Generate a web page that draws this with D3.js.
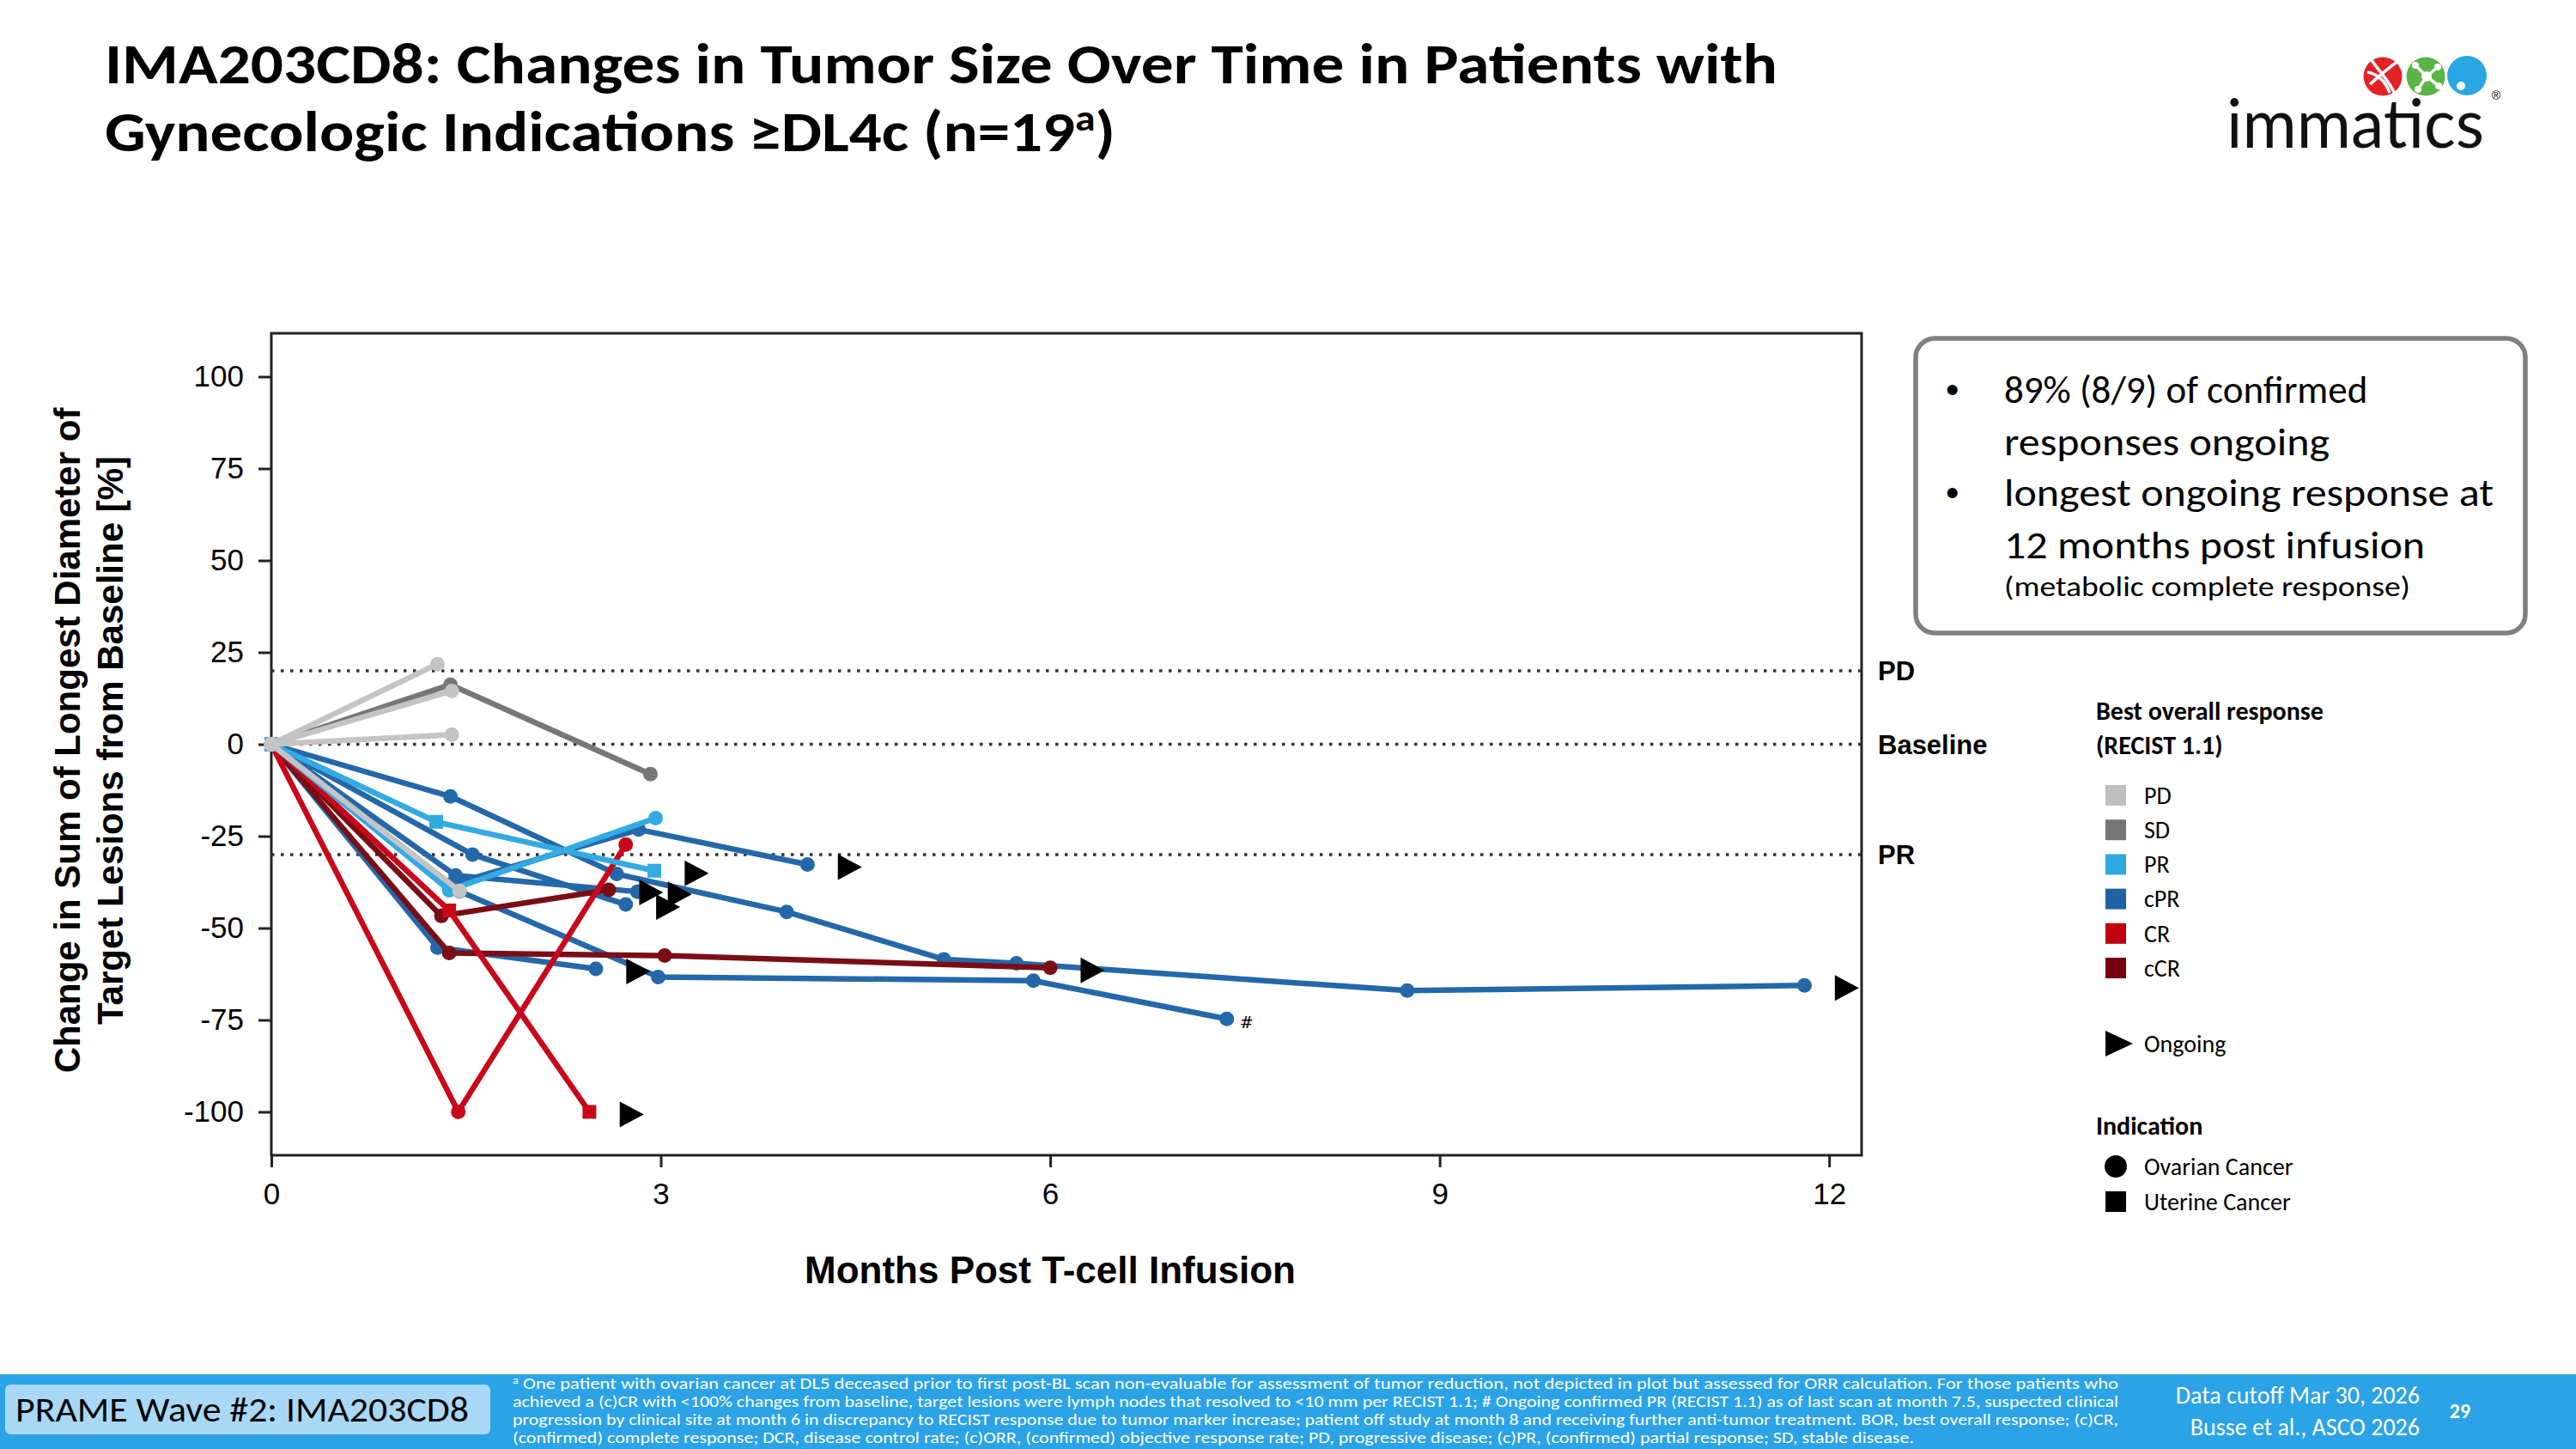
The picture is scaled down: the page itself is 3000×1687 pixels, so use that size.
<!DOCTYPE html>
<html><head><meta charset="utf-8">
<script src="https://cdn.jsdelivr.net/npm/d3@7"></script>
<style>html,body{margin:0;padding:0;background:#fff}svg{display:block}</style>
</head><body>
<svg id="c" width="3000" height="1687"></svg>
<script>
// ---------------- DATA ----------------
const seriesBOR = ["cPR","cPR","cPR","cPR","cPR","cPR","cCR","cCR","CR","CR","PR","PR","SD","PD","PD","PD","PD"];
const seriesIndication = ["Ovarian","Ovarian","Ovarian","Ovarian","Ovarian","Ovarian","Ovarian","Ovarian","Ovarian","Uterine","Uterine","Ovarian","Ovarian","Ovarian","Ovarian","Ovarian","Ovarian"];
const seriesOngoing = [true,false,true,true,true,true,true,true,false,true,true,false,false,false,false,false,false];
const seriesNote = ["","#","","","","","","","","","","","","","","",""];
const seriesMonths = [
  [0,1.38,2.66,3.97,5.18,5.74,8.75,11.81],
  [0,1.45,2.98,5.87,7.36],
  [0,1.28,2.50],
  [0,1.55,2.73],
  [0,1.42,2.82],
  [0,1.38,2.83,4.13],
  [0,1.31,2.60],
  [0,1.37,3.03,6.00],
  [0,1.44,2.73],
  [0,1.37,2.45],
  [0,1.27,2.95],
  [0,1.37,2.96],
  [0,1.38,2.92],
  [0,1.28],
  [0,1.39],
  [0,1.39],
  [0,1.45]
];
const seriesValues = [
  [0,-14.2,-35.3,-45.6,-58.5,-59.6,-67.0,-65.6],
  [0,-40.0,-63.3,-64.3,-74.7],
  [0,-55.3,-61.1],
  [0,-30.0,-43.6],
  [0,-35.7,-40.1],
  [0,-38.2,-23.2,-32.7],
  [0,-46.7,-39.6],
  [0,-56.8,-57.5,-60.8],
  [0,-100,-27.3],
  [0,-45.2,-100],
  [0,-21.1,-34.4],
  [0,-39.7,-20.1],
  [0,16.2,-8.1],
  [0,21.8],
  [0,14.5],
  [0,2.6],
  [0,-39.9]
];
const yTickValues = [100,75,50,25,0,-25,-50,-75,-100];
const xTickValues = [0,3,6,9,12];
const refValues = [20,0,-30];
const refLabels = ["PD","Baseline","PR"];
const legendCategories = ["PD","SD","PR","cPR","CR","cCR"];
const legendColors = ["#BFBFBF","#767676","#2EA9E0","#1F63A5","#C0000F","#760012"];
const lineColors = {PD:"#C4C4C4",SD:"#777777",PR:"#33AAE2",cPR:"#2468A9",CR:"#C8081A",cCR:"#7A0E16"};
const drawOrder = ["cPR","cCR","CR","PR","SD","PD"];
const indicationLabels = ["Ovarian Cancer","Uterine Cancer"];
const boxBullets = ["89% (8/9) of confirmed|responses ongoing","longest ongoing response at|12 months post infusion"];
const footnoteLines = [
 "One patient with ovarian cancer at DL5 deceased prior to first post-BL scan non-evaluable for assessment of tumor reduction, not depicted in plot but assessed for ORR calculation. For those patients who",
 "achieved a (c)CR with <100% changes from baseline, target lesions were lymph nodes that resolved to <10 mm per RECIST 1.1; # Ongoing confirmed PR (RECIST 1.1) as of last scan at month 7.5, suspected clinical",
 "progression by clinical site at month 6 in discrepancy to RECIST response due to tumor marker increase; patient off study at month 8 and receiving further anti-tumor treatment. BOR, best overall response; (c)CR,",
 "(confirmed) complete response; DCR, disease control rate; (c)ORR, (confirmed) objective response rate; PD, progressive disease; (c)PR, (confirmed) partial response; SD, stable disease."
];

// ---------------- LAYOUT ----------------
const svg = d3.select("#c");
const CAL = "Carlito, Lato, 'Open Sans', sans-serif";
const ARI = "'Liberation Sans', Arial, sans-serif";
const L = 316, R = 2168, T = 388, B = 1345;
const x = d3.scaleLinear().domain([0, 12.25]).range([L, R]);
const y = d3.scaleLinear().domain([-111.8, 111.8]).range([B, T]);
const ongoingOffset = 0.32;

function fit(sel, w){ sel.each(function(){ const l=this.getComputedTextLength(); if(Math.abs(l-w)>2){ d3.select(this).attr("textLength",w).attr("lengthAdjust","spacingAndGlyphs"); } }); }

// Title
const t1 = svg.append("text").attr("x",122).attr("y",97).attr("font-family",CAL).attr("font-weight",700).attr("font-size",66).attr("fill","#000")
  .text("IMA203CD8: Changes in Tumor Size Over Time in Patients with");
fit(t1,1948);
const t2 = svg.append("text").attr("x",122).attr("y",176).attr("font-family",CAL).attr("font-weight",700).attr("font-size",66).attr("fill","#000");
t2.append("tspan").text("Gynecologic Indications \u2265DL4c (n=19");
t2.append("tspan").attr("font-size",42).attr("dy",-24).text("a");
t2.append("tspan").attr("dy",24).text(")");
fit(t2,1177);

// Logo
const logo = svg.append("g");
logo.append("circle").attr("cx",2775).attr("cy",89).attr("r",22.5).attr("fill","#E32228");
logo.append("path").attr("d","M2762,70 C2772,85 2784,95 2790,112 M2760,98 C2770,90 2782,78 2792,72 M2757,84 C2768,86 2777,92 2783,108").attr("stroke","#fff").attr("stroke-width",3.5).attr("fill","none");
logo.append("circle").attr("cx",2825).attr("cy",89).attr("r",22.5).attr("fill","#5BB446");
logo.append("g").attr("stroke","#fff").attr("stroke-width",3.5).selectAll("line").data([[2813,76],[2839,78],[2816,104],[2840,100]]).join("line")
  .attr("x1",2826).attr("y1",89).attr("x2",d=>d[0]).attr("y2",d=>d[1]);
logo.append("circle").attr("cx",2826).attr("cy",89).attr("r",6).attr("fill","#fff");
logo.append("g").selectAll("circle").data([[2813,76],[2839,78],[2816,104],[2840,100]]).join("circle").attr("cx",d=>d[0]).attr("cy",d=>d[1]).attr("r",4).attr("fill","#fff");
logo.append("circle").attr("cx",2873).attr("cy",88).attr("r",23).attr("fill","#29A6E3");
logo.append("circle").attr("cx",2866).attr("cy",100).attr("r",5).attr("fill","#fff");
const lt = svg.append("text").attr("x",2593).attr("y",172).attr("font-family","Lato, 'Open Sans', sans-serif").attr("font-weight",400).attr("font-size",80).attr("fill","#111").text("immatics");
fit(lt,300);
svg.append("text").attr("x",2907).attr("y",116).attr("font-family",ARI).attr("font-size",14).attr("text-anchor","middle").text("\u00AE");

// Plot frame
svg.append("rect").attr("x",L).attr("y",T).attr("width",R-L).attr("height",B-T).attr("fill","none").attr("stroke","#222").attr("stroke-width",3);

// Reference lines
svg.append("g").selectAll("line").data(refValues).join("line")
  .attr("x1",L).attr("x2",R).attr("y1",d=>y(d)).attr("y2",d=>y(d))
  .attr("stroke","#333").attr("stroke-width",3.5).attr("stroke-dasharray","3.5,7.5");
svg.append("g").selectAll("text").data(refValues).join("text")
  .attr("x",2187).attr("y",d=>y(d)).attr("dy","0.36em").attr("font-family",ARI).attr("font-weight",700).attr("font-size",31)
  .text((d,i)=>refLabels[i]);

// Axes
const ya = svg.append("g").attr("transform",`translate(${L},0)`).call(d3.axisLeft(y).tickValues(yTickValues).tickSize(15).tickPadding(17).tickFormat(d=>String(d)));
const xa = svg.append("g").attr("transform",`translate(0,${B})`).call(d3.axisBottom(x).tickValues(xTickValues).tickSize(14).tickPadding(18));
[ya,xa].forEach(a=>{ a.select(".domain").remove(); a.selectAll("line").attr("stroke","#222").attr("stroke-width",3); a.selectAll("text").attr("font-family",ARI).attr("font-size",35).attr("fill","#000"); });

// Axis titles
svg.append("text").attr("transform","translate(93,862) rotate(-90)").attr("text-anchor","middle").attr("font-family",ARI).attr("font-weight",700).attr("font-size",42).text("Change in Sum of Longest Diameter of");
svg.append("text").attr("transform","translate(143,862) rotate(-90)").attr("text-anchor","middle").attr("font-family",ARI).attr("font-weight",700).attr("font-size",42).text("Target Lesions from Baseline [%]");
svg.append("text").attr("x",1223).attr("y",1494).attr("text-anchor","middle").attr("font-family",ARI).attr("font-weight",700).attr("font-size",44).text("Months Post T-cell Infusion");

// Series
const series = seriesBOR.map((b,i)=>({bor:b, ind:seriesIndication[i], ongoing:seriesOngoing[i], note:seriesNote[i],
  pts: seriesMonths[i].map((m,j)=>[m, seriesValues[i][j]])}));
const ordered = drawOrder.flatMap(b=>series.filter(s=>s.bor===b));
const line = d3.line().x(d=>x(d[0])).y(d=>y(d[1]));
const gS = svg.append("g");
ordered.forEach(s=>{
  const g = gS.append("g");
  const c = lineColors[s.bor];
  g.append("path").attr("d",line(s.pts)).attr("fill","none").attr("stroke",c).attr("stroke-width",6.5).attr("stroke-linejoin","round");
  if(s.ind==="Ovarian"){
    g.selectAll("circle").data(s.pts).join("circle").attr("cx",d=>x(d[0])).attr("cy",d=>y(d[1])).attr("r",8.5).attr("fill",c);
  } else {
    g.selectAll("rect").data(s.pts).join("rect").attr("x",d=>x(d[0])-8).attr("y",d=>y(d[1])-8).attr("width",16).attr("height",16).attr("fill",c);
  }
  const last = s.pts[s.pts.length-1];
  if(s.ongoing){
    const tx = x(last[0]+ongoingOffset), ty = y(last[1])+3;
    g.append("path").attr("d",`M${tx-13},${ty-15}L${tx+15},${ty}L${tx-13},${ty+15}Z`).attr("fill","#000");
  }
  if(s.note){
    g.append("text").attr("x",x(last[0])+15).attr("y",y(last[1])+11).attr("font-family","'DejaVu Serif', serif").attr("font-size",19).text(s.note);
  }
});

// Text box
svg.append("rect").attr("x",2231).attr("y",394).attr("width",710).attr("height",343).attr("rx",22).attr("fill","#fff").attr("stroke","#808080").attr("stroke-width",5.5);
const boxLinesY = [[469,530],[589,650]];
const boxW = [[425,379],[570,490]];
boxBullets.forEach((b,i)=>{
  svg.append("text").attr("x",2266).attr("y",boxLinesY[i][0]).attr("font-family",ARI).attr("font-size",44).text("\u2022");
  b.split("|").forEach((ln,j)=>{
    const t = svg.append("text").attr("x",2334).attr("y",boxLinesY[i][j]).attr("font-family",CAL).attr("font-size",45).attr("fill","#000").text(ln);
    fit(t, boxW[i][j]);
  });
});
const sm = svg.append("text").attr("x",2334).attr("y",694).attr("font-family",CAL).attr("font-size",32).text("(metabolic complete response)");
fit(sm,473);

// Legend
const lg = svg.append("g");
lg.append("text").attr("x",2441).attr("y",838).attr("font-family",CAL).attr("font-weight",700).attr("font-size",30).text("Best overall response");
lg.append("text").attr("x",2441).attr("y",878).attr("font-family",CAL).attr("font-weight",700).attr("font-size",30).text("(RECIST 1.1)");
const legY = d3.scalePoint().domain(legendCategories).range([926,1127]);
lg.selectAll("rect.k").data(legendCategories).join("rect").attr("class","k").attr("x",2452).attr("y",d=>legY(d)-12).attr("width",24).attr("height",24).attr("fill",(d,i)=>legendColors[i]);
lg.selectAll("text.k").data(legendCategories).join("text").attr("class","k").attr("x",2497).attr("y",d=>legY(d)).attr("dy","0.35em").attr("font-family",CAL).attr("font-size",28).text(d=>d);
lg.append("path").attr("d","M2452,1200L2484,1215L2452,1230Z").attr("fill","#000");
lg.append("text").attr("x",2497).attr("y",1215).attr("dy","0.35em").attr("font-family",CAL).attr("font-size",28).text("Ongoing");
lg.append("text").attr("x",2441).attr("y",1310).attr("dy","0.35em").attr("font-family",CAL).attr("font-weight",700).attr("font-size",30).text("Indication");
lg.append("circle").attr("cx",2464).attr("cy",1358).attr("r",13).attr("fill","#000");
lg.append("rect").attr("x",2452).attr("y",1387).attr("width",24).attr("height",24).attr("fill","#000");
lg.selectAll("text.i").data(indicationLabels).join("text").attr("class","i").attr("x",2497).attr("y",(d,i)=>1358+i*41).attr("dy","0.35em").attr("font-family",CAL).attr("font-size",28).text(d=>d);

// Footer
svg.append("rect").attr("x",0).attr("y",1600).attr("width",3000).attr("height",87).attr("fill","#2BA3E6");
svg.append("rect").attr("x",6).attr("y",1612).attr("width",565).attr("height",58).attr("rx",6).attr("fill","#A9D8F6");
const ft = svg.append("text").attr("x",18).attr("y",1655).attr("font-family",CAL).attr("font-size",40).attr("fill","#000").text("PRAME Wave #2: IMA203CD8");
fit(ft,528);
const fnW = [1870,1870,1870,1632];
footnoteLines.forEach((ln,i)=>{
  const t = svg.append("text").attr("x",597).attr("y",1617+i*21).attr("font-family",CAL).attr("font-size",19).attr("fill","#fff");
  if(i===0){ t.append("tspan").attr("font-size",12).attr("dy",-6).text("a"); t.append("tspan").attr("dy",6).text(" "+ln); }
  else t.text(ln);
  fit(t,fnW[i]);
});
svg.append("text").attr("x",2818).attr("y",1634).attr("text-anchor","end").attr("font-family",CAL).attr("font-size",28).attr("fill","#fff").text("Data cutoff Mar 30, 2026");
svg.append("text").attr("x",2818).attr("y",1671).attr("text-anchor","end").attr("font-family",CAL).attr("font-size",28).attr("fill","#fff").text("Busse et al., ASCO 2026");
svg.append("text").attr("x",2865).attr("y",1651).attr("text-anchor","middle").attr("font-family",CAL).attr("font-weight",700).attr("font-size",24).attr("fill","#fff").text("29");
</script>
</body></html>
